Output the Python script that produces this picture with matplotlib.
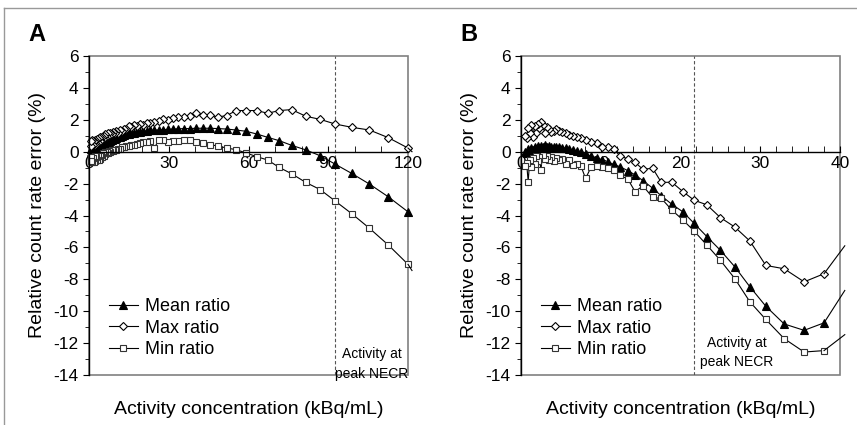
import matplotlib.pyplot as plt
from matplotlib.lines import Line2D
from matplotlib.patches import Rectangle
from matplotlib.ticker import MultipleLocator

plt.rcParams['font.family'] = ['Liberation Sans', 'DejaVu Sans']
plt.rcParams['axes.unicode_minus'] = False

# ---- panel A data ----
x_a = [120, 112.6, 105.5, 98.8, 92.5, 86.9, 81.6, 76.2, 71.6, 67.2, 63.1, 59.1, 55.3, 51.8,
       48.4, 45.5, 42.8, 40.3, 37.9, 35.6, 33.5, 31.5, 29.6, 27.8, 26.2, 24.6, 23.1, 21.7,
       20.4, 19.2, 18.0, 16.9, 15.9, 14.9, 14.0, 13.2, 12.4, 11.6, 10.9, 10.3, 9.7, 9.1,
       8.5, 8.0, 7.5, 7.1, 6.6, 6.2, 5.9, 5.5, 5.2, 4.9, 4.6, 4.3, 4.0, 3.6, 3.3, 3.0,
       2.7, 2.4, 2.1, 1.8, 1.5, 1.2, 0.9, 0.6]
mean_a = [-3.77, -2.83, -2.03, -1.36, -0.77, -0.25, 0.11, 0.40, 0.69, 0.90, 1.11, 1.28, 1.36, 1.42,
          1.45, 1.47, 1.47, 1.47, 1.45, 1.45, 1.43, 1.42, 1.40, 1.38, 1.36, 1.35, 1.33, 1.30,
          1.28, 1.25, 1.22, 1.18, 1.15, 1.10, 1.08, 1.02, 1.00, 0.95, 0.90, 0.88, 0.82, 0.80,
          0.72, 0.70, 0.62, 0.60, 0.52, 0.50, 0.42, 0.45, 0.35, 0.40, 0.28, 0.35, 0.20, 0.30,
          0.15, 0.25, 0.10, 0.30, 0.05, 0.20, 0.00, 0.25, -0.05, 0.15]
max_a = [0.23, 0.88, 1.36, 1.53, 1.74, 2.03, 2.22, 2.64, 2.58, 2.41, 2.58, 2.58, 2.58, 2.26,
         2.18, 2.28, 2.30, 2.45, 2.25, 2.20, 2.15, 2.10, 2.00, 2.05, 1.90, 1.85, 1.80, 1.82,
         1.70, 1.72, 1.60, 1.65, 1.55, 1.60, 1.40, 1.45, 1.30, 1.35, 1.20, 1.30, 1.15, 1.25,
         1.10, 1.20, 1.00, 1.15, 0.95, 1.10, 0.85, 1.00, 0.80, 0.95, 0.70, 0.90, 0.65, 0.85,
         0.55, 0.80, 0.50, 0.75, 0.45, 0.70, 0.40, 0.75, 0.35, 0.70]
min_a = [-7.06, -5.85, -4.80, -3.88, -3.08, -2.37, -1.93, -1.38, -0.99, -0.52, -0.31, -0.08, 0.13, 0.23,
         0.36, 0.44, 0.55, 0.63, 0.73, 0.75, 0.70, 0.68, 0.63, 0.72, 0.73, 0.23, 0.70, 0.62,
         0.58, 0.55, 0.50, 0.45, 0.40, 0.38, 0.33, 0.30, 0.27, 0.20, 0.18, 0.10, 0.12, 0.05,
         0.08, -0.02, 0.02, -0.10, -0.05, -0.15, -0.05, -0.25, -0.10, -0.35, -0.20, -0.45, -0.25, -0.50,
         -0.30, -0.55, -0.35, -0.60, -0.30, -0.65, -0.40, -0.67, -0.35, -0.60]
# where the lines run past the right edge of the axes
tail_a = [121.5, -4.05, 0.0, -7.45]
peak_a = 92.5

# ---- panel B data ----
x_b = [38.0, 35.5, 33.0, 30.7, 28.7, 26.8, 25.0, 23.3, 21.7, 20.3, 18.9, 17.6, 16.5, 15.3,
       14.3, 13.4, 12.4, 11.6, 10.9, 10.2, 9.5, 8.8, 8.1, 7.5, 7.0, 6.5, 6.0, 5.6,
       5.2, 4.8, 4.4, 4.1, 3.8, 3.5, 3.2, 3.0, 2.7, 2.5, 2.3, 2.1, 1.9, 1.7,
       1.5, 1.3, 1.1, 0.9, 0.7, 0.5]
mean_b = [-10.73, -11.2, -10.8, -9.69, -8.47, -7.21, -6.18, -5.32, -4.49, -3.77, -3.29, -2.77, -2.28, -1.82,
          -1.45, -1.19, -0.94, -0.80, -0.62, -0.50, -0.40, -0.28, -0.15, -0.05, 0.05, 0.12, 0.18, 0.22,
          0.25, 0.30, 0.28, 0.32, 0.30, 0.35, 0.28, 0.40, 0.30, 0.38, 0.25, 0.35, 0.20, 0.30,
          0.10, 0.25, 0.05, 0.15, -0.10, 0.00]
max_b = [-7.65, -8.16, -7.34, -7.13, -5.60, -4.72, -4.13, -3.33, -3.04, -2.50, -1.91, -1.93, -1.03, -1.11,
         -0.67, -0.46, -0.25, 0.17, 0.27, 0.31, 0.52, 0.62, 0.73, 0.84, 0.90, 0.98, 1.05, 1.15,
         1.21, 1.32, 1.43, 1.30, 1.25, 1.40, 1.55, 1.20, 1.65, 1.84, 1.50, 1.74, 1.20, 1.60,
         0.95, 1.68, 1.20, 1.49, 0.85, 1.00]
min_b = [-12.47, -12.56, -11.72, -10.52, -9.41, -7.95, -6.81, -5.85, -4.97, -4.28, -3.65, -2.93, -2.87, -2.14,
         -2.50, -1.72, -1.47, -1.15, -1.05, -0.95, -0.88, -0.95, -1.68, -0.88, -0.75, -0.85, -0.55, -0.78,
         -0.45, -0.55, -0.40, -0.61, -0.35, -0.50, -0.30, -0.45, -0.20, -1.13, -0.35, -0.60, -0.30, -0.80,
         -0.40, -0.95, -0.50, -1.87, -0.70, -0.90]
tail_b = [40.6, -8.7, -5.9, -11.47]
peak_b = 21.7

fig = plt.figure(figsize=(8.57, 4.25), dpi=100)

# thin grey frame at the top and left of the figure
fig.add_artist(Line2D([4 / 857, 1], [1 - 8 / 425, 1 - 8 / 425], color='#999999', lw=1))
fig.add_artist(Line2D([4 / 857, 4 / 857], [0, 1 - 8 / 425], color='#999999', lw=1))


def draw_panel(ax, x, mean, mx, mn, tail, peak, xmax, xmajor, xminor, letter, text_x, text_y):
    series = [(mean, '^', 'black', 'black', 5.5, 'Mean ratio'),
              (mx, 'D', 'white', 'black', 3.8, 'Max ratio'),
              (mn, 's', 'white', '#333333', 5, 'Min ratio')]
    for i, (y, m, fc, ec, ms, lab) in enumerate(series):
        ax.plot(x, y, color='black', lw=0.8, marker=m, mfc=fc, mec=ec, ms=ms, mew=0.8,
                label=lab, clip_on=False, zorder=2)
        # short bit of line that leaves the plot area
        ax.plot([tail[0], x[0]], [tail[i + 1], y[0]], color='black', lw=0.8, clip_on=False)

    ax.set_xlim(0, xmax)
    ax.set_ylim(-14, 6)
    ax.axvline(peak, color='#555555', lw=0.8, ls=(0, (3, 2)), zorder=1)
    ax.text(text_x, text_y, 'Activity at\npeak NECR', ha='center', va='center', fontsize=10,
            linespacing=1.5)

    for s in ['top', 'right']:
        ax.spines[s].set_visible(False)
    ax.spines['bottom'].set_position(('data', 0))
    ax.spines['bottom'].set_linewidth(1.0)
    ax.spines['left'].set_linewidth(1.0)
    ax.add_patch(Rectangle((0, 0), 1, 1, transform=ax.transAxes, fill=False,
                           ec='#808080', lw=1.2, clip_on=False, zorder=0))

    ax.xaxis.set_major_locator(MultipleLocator(xmajor))
    ax.xaxis.set_minor_locator(MultipleLocator(xminor))
    ax.yaxis.set_major_locator(MultipleLocator(2))
    ax.yaxis.set_minor_locator(MultipleLocator(1))
    ax.tick_params(axis='x', which='both', direction='in', labelsize=12.5, pad=3)
    ax.tick_params(axis='x', which='major', length=4)
    ax.tick_params(axis='x', which='minor', length=4)
    ax.tick_params(axis='y', which='major', direction='out', length=4, labelsize=12.5)
    ax.tick_params(axis='y', which='minor', direction='out', length=3)
    ax.set_xticklabels([f'{int(v)}' for v in ax.get_xticks()])

    ax.set_ylabel('Relative count rate error (%)', fontsize=14)
    ax.yaxis.set_label_coords(-0.135, 0.5)
    ax.set_xlabel('Activity concentration (kBq/mL)', fontsize=14, labelpad=0)
    ax.xaxis.set_label_coords(0.5, -0.08)

    ax.legend(loc='lower left', bbox_to_anchor=(0.04, 0.03), frameon=False, fontsize=13,
              handlelength=1.6, handletextpad=0.4, labelspacing=0.25, borderaxespad=0)
    ax.text(-0.19, 1.03, letter, transform=ax.transAxes, fontsize=17, fontweight='bold',
            va='bottom')


ax_a = fig.add_axes([89 / 857, 1 - 375 / 425, 319 / 857, 319 / 425])
draw_panel(ax_a, x_a, mean_a, max_a, min_a, tail_a, peak_a, 120, 30, 10, 'A', 106.5, -13.3)

ax_b = fig.add_axes([521 / 857, 1 - 375 / 425, 319 / 857, 319 / 425])
draw_panel(ax_b, x_b, mean_b, max_b, min_b, tail_b, peak_b, 40, 10, 2, 'B', 27.1, -12.6)

fig.savefig('out.png', dpi=100)
